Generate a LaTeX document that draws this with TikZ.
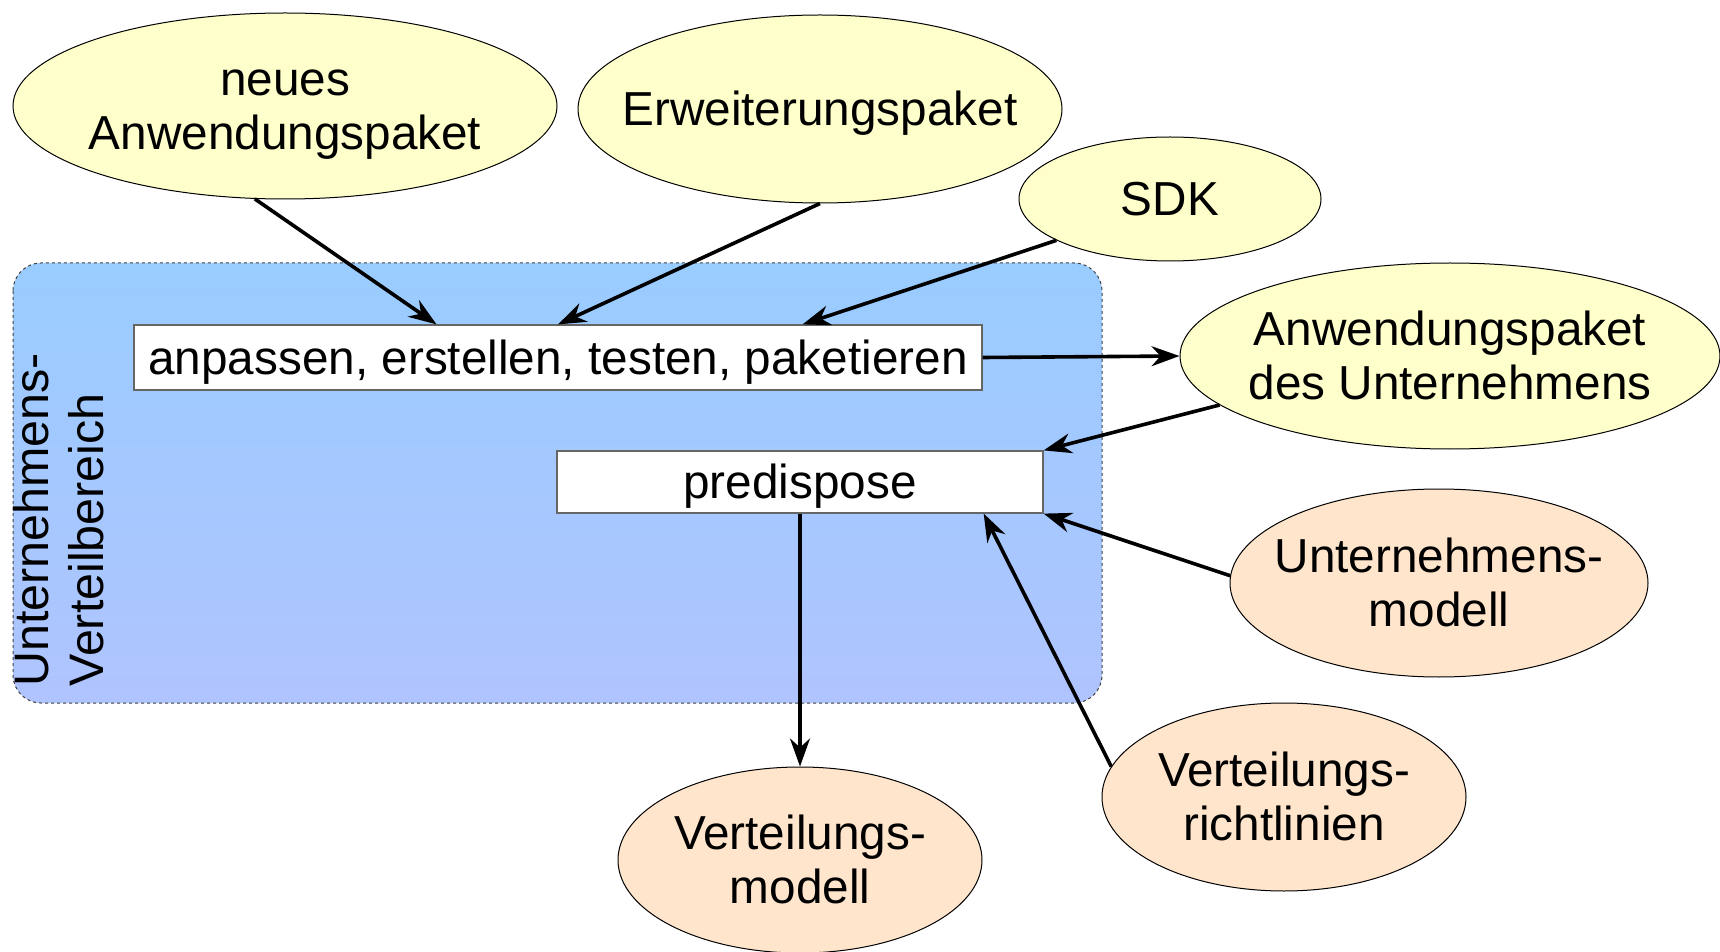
\documentclass[tikz,border=0pt]{standalone}
\usepackage{fontspec}
\usepackage{array}
\setmainfont{Liberation Sans}
\usetikzlibrary{arrows.meta,shapes.geometric,calc}
\definecolor{paleyellow}{HTML}{FFFFCC}
\definecolor{paleorange}{HTML}{FFE5CC}
\definecolor{areatop}{HTML}{99CCFF}
\definecolor{areabottom}{HTML}{B0C4FF}
% line strut with the font's ascent and descent
\newcommand\lostrut{\rule[-0.212em]{0pt}{1.117em}}
% centred text of zero width, so that an ellipse keeps its given size
\newcommand\ctext[1]{\makebox[0pt]{\renewcommand\arraystretch{0}%
  \begin{tabular}{@{}>{\lostrut}c@{}}#1\end{tabular}}}
\begin{document}
\begin{tikzpicture}[x=0.5pt,y=-0.5pt,
  every node/.style={font=\fontsize{23.85}{27.5}\selectfont},
  pkg/.style={ellipse, draw=black, line width=0.5pt, fill=paleyellow, inner sep=0pt},
  mdl/.style={ellipse, draw=black, line width=0.5pt, fill=paleorange, inner sep=0pt},
  task/.style={rectangle, draw=black!60, line width=0.6pt, fill=white, inner sep=0pt,
               text height=21.6pt, text depth=5.06pt},
  flow/.style={line width=1.8pt, -{Stealth[length=14pt,width=10pt,inset=4.5pt]}}]
\useasboundingbox (0,0) rectangle (1720,952);

% distribution area
\draw[dash pattern=on 1.5pt off 1.5pt, draw=black!75, line width=0.5pt,
      rounded corners=14pt, top color=areatop, bottom color=areabottom]
  (13,263) rectangle (1102,703);
\node[rotate=90, anchor=north west, align=left, inner sep=0pt,
      font=\fontsize{24.2}{27.5}\selectfont] (area) at (13,687)
  {Unternehmens-\\Verteilbereich};

% inputs and outputs
\node[pkg, minimum width=272pt, minimum height=93pt] (neu) at (285,106) {\ctext{neues\\Anwendungspaket}};
\node[pkg, minimum width=242pt, minimum height=94pt] (erw) at (820,109) {\ctext{Erweiterungspaket}};
\node[pkg, minimum width=151pt, minimum height=62pt] (sdk) at (1170,199) {\ctext{SDK}};
\node[pkg, minimum width=270pt, minimum height=93pt] (anw) at (1450,356) {\ctext{Anwendungspaket\\des Unternehmens}};
\node[mdl, minimum width=209pt, minimum height=94pt] (um) at (1439,583) {\ctext{Unternehmens-\\modell}};
\node[mdl, minimum width=182pt, minimum height=94pt] (vr) at (1284,797) {\ctext{Verteilungs-\\richtlinien}};
\node[mdl, minimum width=182pt, minimum height=93pt] (vm) at (800,860) {\ctext{Verteilungs-\\modell}};

% activities
\node[task, minimum width=424pt, minimum height=32.5pt] (build) at (558,357.5) {anpassen, erstellen, testen, paketieren};
\node[task, minimum width=243pt, minimum height=31pt] (pre) at (800,482) {predispose};

% flows
\draw[flow] (neu.252) -- ($(build.north west)!0.357!(build.north east)$);
\draw[flow] (erw.south) -- (build.north);
\draw[flow] (sdk.200) -- ($(build.north west)!0.788!(build.north east)$);
\draw[flow] (build.east) -- (anw.west);
\draw[flow] (anw.192) -- (pre.north east);
\draw[flow] (um.178) -- (pre.south east);
\draw[flow] (vr.170) -- ($(pre.south west)!0.877!(pre.south east)$);
\draw[flow] (pre.south) -- (vm.north);
\end{tikzpicture}
\end{document}
